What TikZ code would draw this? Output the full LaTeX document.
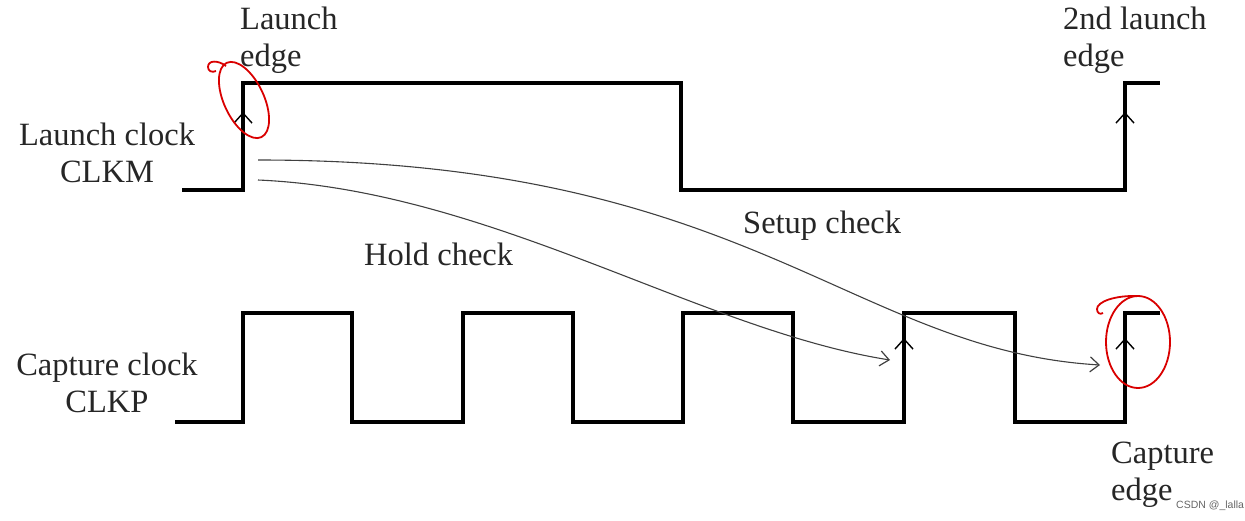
\documentclass[tikz,border=0pt]{standalone}
\usepackage{fontspec}
\setmainfont{Liberation Serif}
\newfontfamily\wmfont{Liberation Sans}
\usetikzlibrary{arrows.meta}
\begin{document}
\begin{tikzpicture}[x=1pt,y=-1pt,
  wave/.style={line width=3.1pt,black,line join=miter},
  edgearrow/.style={line width=1.4pt,-{Straight Barb[length=10pt,width=18pt,line width=1.4pt]}},
  check/.style={line width=1.1pt,black!75,-{Straight Barb[length=9pt,width=15pt,line width=1.2pt]}},
  lbl/.style={font=\fontsize{32.5}{37}\selectfont,text=black!85,inner sep=0pt},
  redmark/.style={red!85!black,line width=1.8pt}]
\useasboundingbox (0,0) rectangle (1245,520);
% launch clock
\draw[wave] (182,190) -- (243,190) -- (243,83) -- (681,83) -- (681,190) -- (1125,190) -- (1125,83) -- (1160,83);
% capture clock
\draw[wave] (175,422) -- (243,422) -- (243,313) -- (352,313) -- (352,422) -- (463,422) -- (463,313) -- (573,313) -- (573,422) -- (683,422) -- (683,313) -- (793,313) -- (793,422) -- (904,422) -- (904,313) -- (1015,313) -- (1015,422) -- (1125,422) -- (1125,313) -- (1160,313);
% edge arrows
\draw[edgearrow] (243,135) -- (243,112);
\draw[edgearrow] (1125,135) -- (1125,112);
\draw[edgearrow] (904,362) -- (904,338);
\draw[edgearrow] (1125,362) -- (1125,338);
% check curves
\coordinate (sS) at (258,160);
\coordinate (sE) at (1100,365);
\coordinate (hS) at (258,180);
\coordinate (hE) at (890,360);
\draw[check] (sS) .. controls (750,160) and (850,350) .. (sE);
\draw[check] (hS) .. controls (490,190) and (700,330) .. (hE);
% labels
\node[lbl,anchor=west,align=left] (le) at (240,40) {Launch\\edge};
\node[lbl,anchor=west,align=left] (le2) at (1063,40) {2nd launch\\edge};
\node[lbl,align=center] (lc) at (107,153) {Launch clock\\CLKM};
\node[lbl,align=center] (cc) at (107,383) {Capture clock\\CLKP};
\node[lbl,anchor=west,align=left] (ce) at (1111,475) {Capture\\edge};
\node[lbl,anchor=west] (sc) at (743,226) {Setup check};
\node[lbl,anchor=west] (hc) at (364,254) {Hold check};
\node[font=\wmfont\fontsize{10.5}{12}\selectfont,text=black!60,anchor=west,inner sep=0pt] (wm) at (1176,506) {CSDN @\_lalla};
% red marks
\draw[redmark,rotate around={-65:(244,100)}] (244,100) ellipse [x radius=41, y radius=20];
\draw[redmark] (226,66) .. controls (218,60) and (208,60) .. (208,67) .. controls (208,71) and (212,73) .. (216,71);
\draw[redmark] (1138,342) ellipse [x radius=32, y radius=46];
\draw[redmark] (1140,296) .. controls (1114,295) and (1097,302) .. (1097,309) .. controls (1097,313) and (1100,315) .. (1103,313);
\end{tikzpicture}
\end{document}
